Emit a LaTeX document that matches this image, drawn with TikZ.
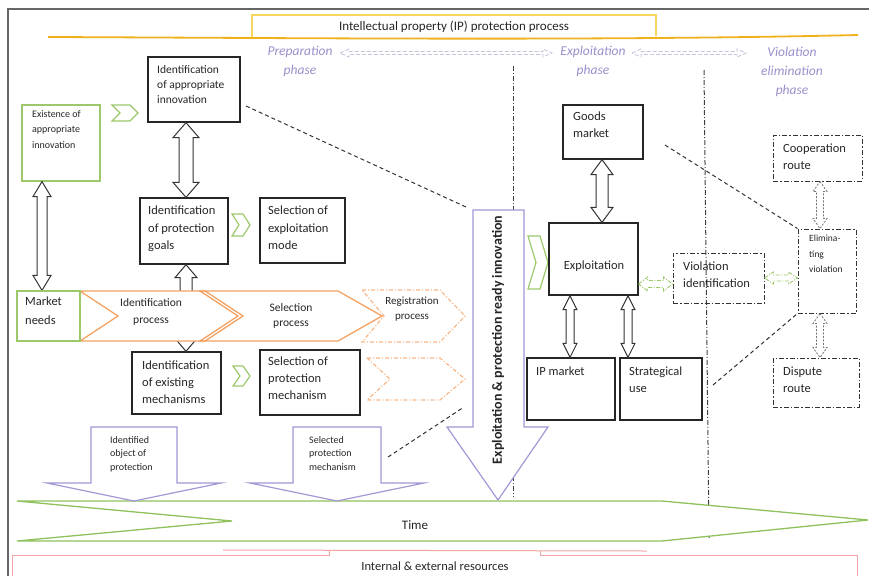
\documentclass[tikz,border=0pt]{standalone}
\usepackage{fontspec}
\setmainfont{Carlito}
\usetikzlibrary{calc}

\definecolor{grn}{HTML}{9DC96B}
\definecolor{grntime}{HTML}{8FC15C}
\definecolor{orng}{HTML}{F5A263}
\definecolor{orngl}{HTML}{F8B787}
\definecolor{purp}{HTML}{A497D6}
\definecolor{phasetxt}{HTML}{9B8ECB}
\definecolor{phasearr}{HTML}{C9C4DD}
\definecolor{ylw}{HTML}{F8D55C}
\definecolor{gold}{HTML}{EFB21E}
\definecolor{pnk}{HTML}{F2A3A3}
\definecolor{ink}{HTML}{262626}

\newcommand\fsz[2]{\fontsize{#1}{#2}\selectfont}

% vertical hollow double arrow between two anchors:
% [style]{top anchor}{bottom anchor}{x}{head half width}{shaft half width}{head length}
\newcommand\vdbl[7][]{%
  \path[#1] let \p1=(#2), \p2=(#3) in
    (#4pt,\y1) -- (#4pt+#5pt,\y1-#7pt) -- (#4pt+#6pt,\y1-#7pt) --
    (#4pt+#6pt,\y2+#7pt) -- (#4pt+#5pt,\y2+#7pt) -- (#4pt,\y2) --
    (#4pt-#5pt,\y2+#7pt) -- (#4pt-#6pt,\y2+#7pt) --
    (#4pt-#6pt,\y1-#7pt) -- (#4pt-#5pt,\y1-#7pt) -- cycle;}

% horizontal hollow double arrow between two anchors:
% [style]{left anchor}{right anchor}{y}{head half width}{shaft half width}{head length}
\newcommand\hdbl[7][]{%
  \path[#1] let \p1=(#2), \p2=(#3) in
    (\x1,-#4pt) -- (\x1+#7pt,-#4pt+#5pt) -- (\x1+#7pt,-#4pt+#6pt) --
    (\x2-#7pt,-#4pt+#6pt) -- (\x2-#7pt,-#4pt+#5pt) -- (\x2,-#4pt) --
    (\x2-#7pt,-#4pt-#5pt) -- (\x2-#7pt,-#4pt-#6pt) --
    (\x1+#7pt,-#4pt-#6pt) -- (\x1+#7pt,-#4pt-#5pt) -- cycle;}

% small chevron: [style]{x0}{y0}{x1}{y1}{notch depth}
\newcommand\chev[6][]{%
  \draw[#1] (#2,#3) -- ({#4-#6},#3) -- (#4,{(#3+#5)/2}) -- ({#4-#6},#5)
    -- (#2,#5) -- ({#2+#6},{(#3+#5)/2}) -- cycle;}

\begin{document}
\begin{tikzpicture}[x=1pt,y=-1pt,
  box/.style={draw=black!85, line width=1.3pt, fill=white, inner sep=0pt, rectangle},
  gbox/.style={box, draw=grn, line width=1.2pt},
  ddbox/.style={box, draw=black!80, line width=1pt, dash pattern=on 5pt off 2pt on 1.5pt off 2pt},
  txt/.style={inner sep=0pt, anchor=north west, align=left, text=ink},
  ctxt/.style={inner sep=0pt, align=center, text=ink},
  phase/.style={inner sep=0pt, align=center, text=phasetxt, font=\itshape\fsz{13.5}{19}},
  dblarr/.style={draw=black!80, line width=1pt, fill=white},
  grdbl/.style={draw=grn, line width=0.9pt, dash pattern=on 4pt off 1.5pt on 1pt off 1.5pt},
  gydbl/.style={draw=black!55, line width=0.8pt, dash pattern=on 2pt off 1.5pt},
  phdbl/.style={draw=phasearr, line width=0.9pt, dash pattern=on 4pt off 2pt},
  gchev/.style={draw=grn, line width=1.2pt, fill=white},
  dashln/.style={draw=black!80, line width=1pt, dash pattern=on 4pt off 3pt},
  dashdot/.style={draw=black!75, line width=1pt, dash pattern=on 5pt off 2pt on 1pt off 2pt},
  pArrow/.style={draw=purp, line width=1.2pt, fill=white},
  procfill/.style={fill=white},
  procline/.style={draw=orng, line width=1.3pt},
  regline/.style={draw=orngl, line width=1.2pt, dash pattern=on 4pt off 2pt on 1pt off 2pt}
]
\useasboundingbox (0,0) rectangle (869,576);

% frame
\draw[black!60, line width=2pt] (8,576) -- (8,9) -- (869,9);

% title banner
\draw[ylw, line width=1.5pt] (252,37) -- (252,15) -- (656,15) -- (656,36);
\draw[gold, line width=1.8pt] (48,37) .. controls (300,38) and (600,41) .. (858,35);
\node[ctxt, font=\fsz{13}{15}] (title) at (454,27) {Intellectual property (IP) protection process};

% resources banner
\draw[pnk, line width=1pt] (223,550) -- (647,551);
\draw[pnk, line width=1pt] (329,550) -- (329,555) -- (12,555) -- (12,576);
\draw[pnk, line width=1pt] (540,551) -- (540,555) -- (857,555) -- (857,576);
\node[ctxt, font=\fsz{12.5}{15}] (res) at (435,566) {Internal \& external resources};

% phase labels and their links
\node[phase] (prep) at (300,61) {Preparation\\phase};
\node[phase] (expph) at (593,61) {Exploitation\\phase};
\node[phase] (vioph) at (792,72) {Violation\\elimination\\phase};
\coordinate (pa1) at (340,53);
\coordinate (pa2) at (552,53);
\coordinate (pb1) at (632,53);
\coordinate (pb2) at (746,53);
\hdbl[phdbl]{pa1}{pa2}{53}{4}{1.5}{9}
\hdbl[phdbl]{pb1}{pb2}{53}{4}{1.5}{9}

% phase borders
\draw[dashdot] (513,66) -- (513,497);
\draw[dashdot] (704,70) -- (709,538);

% time axis
\draw[grntime, line width=1.3pt, fill=white] (17,501) -- (662,501) -- (868,520) -- (662,541) -- (17,541) -- (232,521) -- cycle;
\node[ctxt, font=\fsz{13}{15}] (time) at (415,525) {Time};

% ---------- preparation phase ----------
\node[box, minimum width=92pt, minimum height=65pt] (appr) at (194,89.5) {};
\node[txt, font=\fsz{11.5}{15}] (apprT) at (157,65) {Identification\\of appropriate\\innovation};

\node[gbox, minimum width=78pt, minimum height=76pt] (exist) at (61,143) {};
\node[txt, font=\fsz{10}{15.5}] (existT) at (32,110) {Existence of\\appropriate\\innovation};
\chev[gchev]{112}{105}{138}{121}{8}

\node[box, minimum width=88pt, minimum height=66pt] (goals) at (184,231) {};
\node[txt, font=\fsz{12.5}{17.5}] (goalsT) at (148,206) {Identification\\of protection\\goals};
\chev[gchev]{232}{214}{250}{236}{7}
\node[box, minimum width=85pt, minimum height=65pt] (exmode) at (302.5,230.5) {};
\node[txt, font=\fsz{12.5}{17.5}] (exmodeT) at (268,206) {Selection of\\exploitation\\mode};

\node[gbox, minimum width=63pt, minimum height=50pt] (market) at (48.5,316) {};
\node[txt, font=\fsz{12.5}{19}] (marketT) at (25,297) {Market\\needs};

\vdbl[dblarr]{appr.south}{goals.north}{186}{13}{7}{15}
\vdbl[dblarr]{exist.south}{market.north}{42}{9}{5}{15}

\node[box, minimum width=89pt, minimum height=62pt] (mech) at (176.5,383) {};
\vdbl[dblarr]{goals.south}{mech.north}{186}{11}{6}{13}

% process chevrons
\fill[procfill] (80,291) -- (205,291) -- (243,316) -- (205,341) -- (80,341) -- (118,316) -- cycle;
\fill[procfill] (200,291) -- (338,291) -- (382,316) -- (338,341) -- (200,341) -- (238,316) -- cycle;
\draw[procline] (200,291) -- (338,291) -- (382,316) -- (338,341) -- (200,341) -- (238,316) -- cycle;
\draw[procline] (80,291) -- (205,291) -- (243,316) -- (205,341) -- (80,341) -- (118,316) -- cycle;
\node[ctxt, font=\fsz{11.5}{17}] (idproc) at (151,312) {Identification\\process};
\node[ctxt, font=\fsz{11.5}{15.5}] (selproc) at (291,316) {Selection\\process};
\draw[regline] (362,290) -- (440,290) -- (465,316) -- (440,342) -- (362,342) -- (384,316) -- cycle;
\node[ctxt, font=\fsz{11}{14.5}] (regproc) at (412,309) {Registration\\process};
\draw[regline] (367,358) -- (440,358) -- (465,379) -- (440,400) -- (367,400) -- (390,379) -- cycle;

% market needs box redrawn over the chevron start
\node[gbox, minimum width=63pt, minimum height=50pt, fill=none] (market2) at (48.5,316) {};

\node[txt, font=\fsz{12.5}{17}] (mechT) at (142,361) {Identification\\of existing\\mechanisms};
\chev[gchev]{233}{366}{250}{386}{7}
\node[box, minimum width=100pt, minimum height=65pt] (pmech) at (310,382.5) {};
\node[txt, font=\fsz{12.5}{17}] (pmechT) at (268,357) {Selection of\\protection\\mechanism};

% outputs of the preparation phase
\draw[pArrow] (91,427) -- (177,427) -- (177,483) -- (221,483) -- (134,501) -- (47,483) -- (91,483) -- cycle;
\node[txt, font=\fsz{10}{13.5}] (objT) at (110,436) {Identified\\object of\\protection};
\draw[pArrow] (293,427) -- (381,427) -- (381,483) -- (424,483) -- (337,501) -- (250,483) -- (293,483) -- cycle;
\node[txt, font=\fsz{10}{13.5}] (selT) at (309,436) {Selected\\protection\\mechanism};

% ready innovation
\draw[pArrow] (473,210) -- (524,210) -- (524,427) -- (548,427) -- (498,500) -- (447,427) -- (473,427) -- cycle;
\node[inner sep=0pt, text=ink, rotate=90, font=\bfseries\fsz{14}{16}] (bigT) at (498,340) {Exploitation \& protection ready innovation};

\coordinate (d1a) at (246,106);
\coordinate (d1b) at (466,207);
\coordinate (d2a) at (388,457);
\coordinate (d2b) at (464,407);
\draw[dashln] (d1a) -- (d1b);
\draw[dashln] (d2a) -- (d2b);

% ---------- exploitation phase ----------
\chev[gchev]{528}{236}{548}{289}{8}
\node[box, minimum width=80pt, minimum height=54pt] (goods) at (603,132) {};
\node[txt, font=\fsz{12.5}{17}] (goodsT) at (573,112) {Goods\\market};
\node[box, minimum width=89pt, minimum height=72pt] (expl) at (593.5,259) {};
\node[ctxt, font=\fsz{12.5}{15}] (explT) at (594,266) {Exploitation};
\node[box, minimum width=88pt, minimum height=62pt] (ipm) at (571,389) {};
\node[txt, font=\fsz{12.5}{17}] (ipmT) at (536,367) {IP market};
\node[box, minimum width=82pt, minimum height=62pt] (strat) at (661,389) {};
\node[txt, font=\fsz{12.5}{17}] (stratT) at (629,367) {Strategical\\use};
\vdbl[dblarr]{goods.south}{expl.north}{602}{11}{6}{15}
\vdbl[dblarr]{expl.south}{ipm.north}{570}{7}{4}{14}
\vdbl[dblarr]{expl.south}{strat.north}{628}{7}{4}{14}

% ---------- violation elimination phase ----------
\node[ddbox, fill=none, minimum width=91pt, minimum height=50pt] (viol) at (718.5,278) {};
\node[txt, font=\fsz{12.5}{17}] (violT) at (683,262) {Violation\\identification};
\node[ddbox, minimum width=58pt, minimum height=84pt] (elim) at (827,271) {};
\node[txt, font=\fsz{9.5}{15.5}] (elimT) at (809,235) {Elimina-\\ting\\violation};
\node[ddbox, minimum width=89pt, minimum height=46pt] (coop) at (817.5,158) {};
\node[txt, font=\fsz{12.5}{17}] (coopT) at (783,144) {Cooperation\\route};
\node[ddbox, minimum width=86pt, minimum height=49pt] (disp) at (816,382.5) {};
\node[txt, font=\fsz{12.5}{17}] (dispT) at (783,367) {Dispute\\route};

\hdbl[grdbl]{expl.east}{viol.west}{284}{7}{3.5}{9}
\hdbl[grdbl]{viol.east}{elim.west}{278}{6}{3}{9}
\vdbl[gydbl]{coop.south}{elim.north}{820}{7}{3.5}{10}
\vdbl[gydbl]{elim.south}{disp.north}{820}{7}{3.5}{10}

\coordinate (d3a) at (665,145);
\coordinate (d4a) at (713,385);
\draw[dashln] (d3a) -- (elim.north west);
\draw[dashln] (d4a) -- (elim.south west);

\end{tikzpicture}
\end{document}
